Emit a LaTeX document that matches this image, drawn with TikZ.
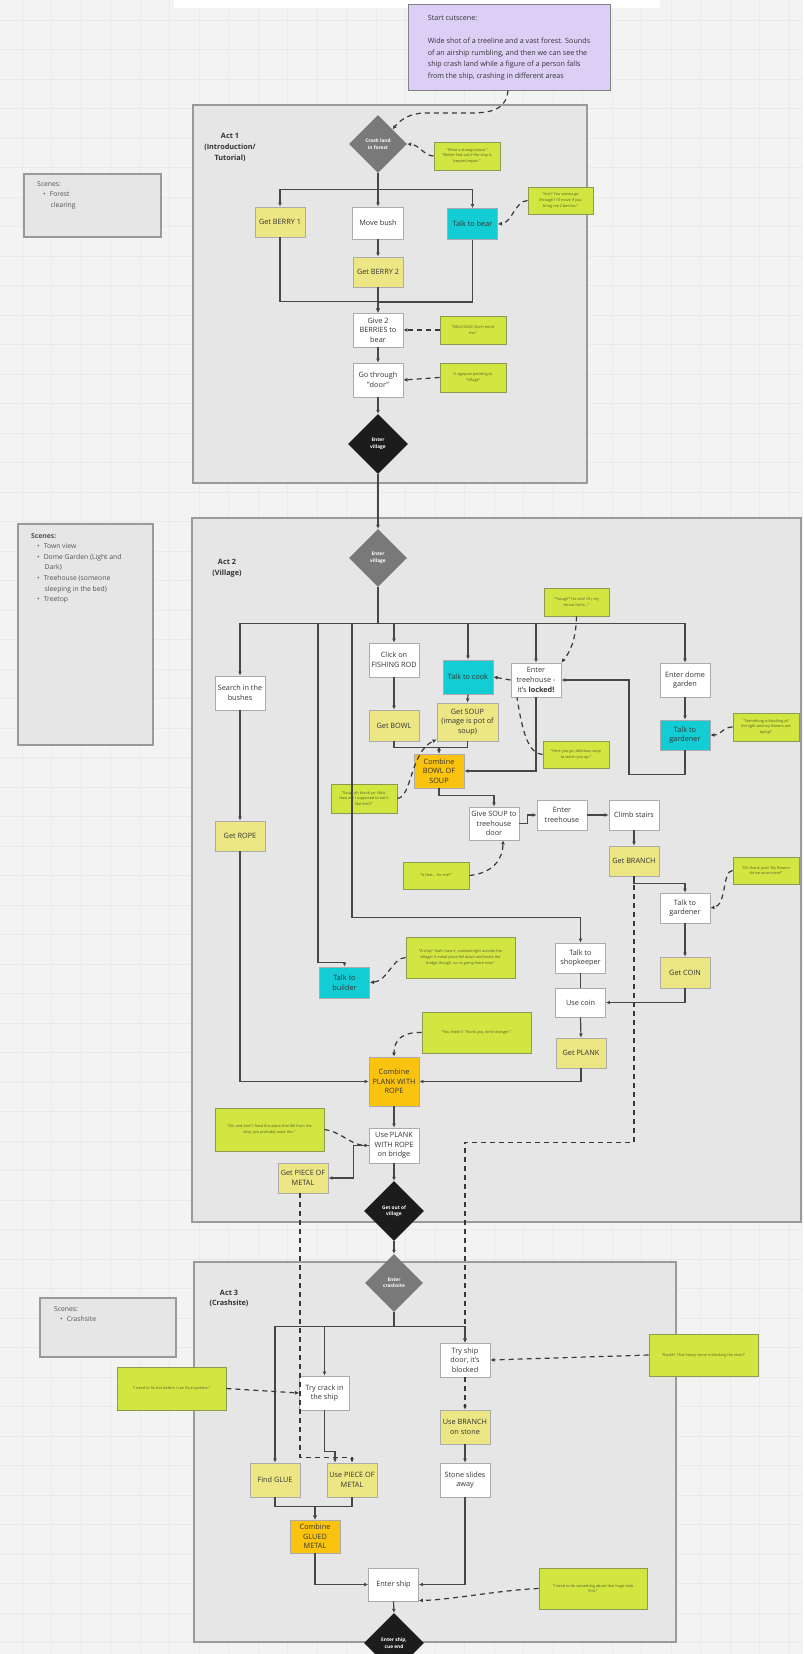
\documentclass[tikz,border=0pt]{standalone}
\usepackage{fontspec}
\setmainfont{Open Sans}
\usetikzlibrary{shapes.geometric,arrows.meta}
\definecolor{bgc}{HTML}{F3F3F3}
\definecolor{gridc}{HTML}{EAEAEA}
\definecolor{regfill}{HTML}{E6E6E6}
\definecolor{reggray}{HTML}{9A9A9A}
\definecolor{boxgray}{HTML}{ABABAB}
\definecolor{txt}{HTML}{333333}
\definecolor{yel}{HTML}{ECE784}
\definecolor{cyn}{HTML}{12CDD4}
\definecolor{org}{HTML}{F9C30F}
\definecolor{lime}{HTML}{D1E641}
\definecolor{notegray}{HTML}{8E9A50}
\definecolor{notetxt}{HTML}{55602A}
\definecolor{diagray}{HTML}{797979}
\definecolor{diablack}{HTML}{1C1C1C}
\definecolor{linec}{HTML}{474747}
\definecolor{dashc}{HTML}{383838}
\definecolor{lav}{HTML}{DCCFF6}
\newcommand{\bx}[7]{\node[#1, minimum width=#5pt, minimum height=#6pt] (#2) at (#3,#4) {#7};}
\tikzset{
 box/.style={draw=boxgray, line width=0.9pt, inner sep=1pt, align=center, font=\fontsize{7.3}{9.6}\selectfont, text=txt},
 wbox/.style={box, fill=white},
 ybox/.style={box, fill=yel},
 cbox/.style={box, fill=cyn},
 obox/.style={box, fill=org},
 note/.style={draw=notegray, line width=0.9pt, fill=lime, align=center, inner sep=1pt, font=\fontsize{3.8}{5.8}\selectfont, text=notetxt},
 dia/.style={diamond, inner sep=0pt, minimum width=58pt, minimum height=58pt, font=\bfseries\fontsize{4.8}{6.4}\selectfont, text=white, align=center},
 gdia/.style={dia, fill=diagray},
 bdia/.style={dia, fill=diablack},
 conn/.style={draw=linec, line width=1.2pt},
 arr/.style={conn, -{Latex[length=4pt,width=4pt]}},
 darr/.style={draw=dashc, line width=1.2pt, dash pattern=on 5pt off 4pt, -{Latex[length=4pt,width=4pt]}},
 dline/.style={draw=dashc, line width=1.2pt, dash pattern=on 5pt off 4pt},
 region/.style={draw=reggray, line width=1.3pt, fill=regfill},
 scenebox/.style={draw=reggray, line width=1.3pt, fill=regfill},
 scenetxt/.style={anchor=north west, align=left, inner sep=0pt, font=\fontsize{6.8}{10.6}\selectfont, text=txt!85},
 actlbl/.style={align=center, inner sep=0pt, font=\bfseries\fontsize{7.3}{10.6}\selectfont, text=txt},
}
\begin{document}
\begin{tikzpicture}[x=1pt,y=-1pt]
\useasboundingbox (0,0) rectangle (803,1654);
\clip (0,0) rectangle (803,1654);
% background
\fill[bgc] (0,0) rectangle (803,1654);
\foreach \i in {0,...,27} \draw[gridc, line width=0.5pt] ({22+29.5*\i},0) -- ++(0,1654);
\foreach \i in {0,...,55} \draw[gridc, line width=0.5pt] (0,{20+29.5*\i}) -- ++(803,0);
\fill[white] (174,0) rectangle (660,8);
% regions
\path[region] (193,105) rectangle (587,483);
\path[region] (192,518) rectangle (801,1222);
\path[region] (194,1262) rectangle (676,1642);
\node[actlbl] (act1) at (230,147.5) {Act 1\\(Introduction/\\Tutorial)};
\node[actlbl] (act2) at (227,568) {Act 2\\(Village)};
\node[actlbl] (act3) at (229,1298.5) {Act 3\\(Crashsite)};
% scenes boxes
\path[scenebox] (24,174) rectangle (161,237);
\node[scenetxt] (sc1) at (37,181) {Scenes:\\\hspace*{6pt}•\hspace{4pt}Forest\\\hspace*{13.5pt}clearing};
\path[scenebox] (18,524) rectangle (153,745);
\node[scenetxt] (sc2) at (31,533) {\textbf{Scenes:}\\\hspace*{6pt}•\hspace{4pt}Town view\\\hspace*{6pt}•\hspace{4pt}Dome Garden (Light and\\\hspace*{13.5pt}Dark)\\\hspace*{6pt}•\hspace{4pt}Treehouse (someone\\\hspace*{13.5pt}sleeping in the bed)\\\hspace*{6pt}•\hspace{4pt}Treetop};
\path[scenebox] (40,1298) rectangle (176,1357);
\node[scenetxt] (sc3) at (54,1306) {Scenes:\\\hspace*{6pt}•\hspace{4pt}Crashsite};
% cutscene
\node[draw=gray, line width=1pt, fill=lav, minimum width=202pt, minimum height=85pt, align=left, inner sep=0pt, font=\fontsize{7.2}{11.6}\selectfont, text=txt] (cut) at (509,47.5) {Start cutscene:\\[11.6pt]Wide shot of a treeline and a vast forest. Sounds\\of an airship rumbling, and then we can see the\\ship crash land while a figure of a person falls\\from the ship, crashing in different areas};
%% ACT 1
\node[gdia] (dcrash) at (378,144) {Crash land\\in forest};
\bx{note}{n1}{467}{156}{66}{28}{"What a strange place."\\"Better find out if the ship is\\beyond repair."}
\bx{ybox}{berry1}{280}{222}{50}{30}{Get BERRY 1}
\bx{wbox}{bush}{378}{223}{51}{32}{Move bush}
\bx{cbox}{bear}{472.5}{224}{50}{31}{Talk to bear}
\bx{note}{n2}{560.5}{200.5}{65}{27}{"Huh? You wanna go\\through? I'll move if you\\bring me 2 berries."}
\bx{ybox}{berry2}{378}{272}{50}{30}{Get BERRY 2}
\bx{wbox}{give}{378}{330}{50}{34}{Give 2\\BERRIES to\\bear}
\bx{note}{n3}{473}{330}{66}{28}{"DELICIOUS! Don't mind\\me."}
\bx{wbox}{door}{378}{380}{50}{34}{Go through\\"door"}
\bx{note}{n4}{473}{377.5}{66}{29}{A signpost pointing to\\"Village"}
\node[bdia, minimum width=60pt, minimum height=60pt] (dev1) at (378,444) {Enter\\village};
%% ACT 2
\node[gdia] (dev2) at (378,558) {Enter\\village};
\bx{wbox}{search}{240}{693}{50}{34}{Search in the\\bushes}
\bx{ybox}{rope}{240}{836}{50}{30}{Get ROPE}
\bx{wbox}{fish}{394}{660}{50}{34}{Click on\\FISHING ROD}
\bx{ybox}{bowl}{394}{725.5}{50}{31}{Get BOWL}
\bx{cbox}{cook}{468}{677}{50}{34}{Talk to cook}
\bx{ybox}{soup}{467.5}{722}{61}{38}{Get SOUP\\(image is pot of\\soup)}
\bx{obox}{cmbsoup}{439}{771}{50}{34}{Combine\\BOWL OF\\SOUP}
\bx{wbox}{tlocked}{536}{680}{50}{34}{Enter\\treehouse -\\it's \textbf{locked!}}
\bx{note}{ncough}{576.5}{602}{65}{28}{"*cough* I'm sick! Oh, my\\throat hurts..."}
\bx{note}{nhere}{576}{754.5}{66}{27}{"Here you go, delicious soup\\to warm you up."}
\bx{wbox}{dome}{685}{680}{50}{34}{Enter dome\\garden}
\bx{cbox}{gard1}{685}{735}{50}{30}{Talk to\\gardener}
\bx{note}{nblock}{766}{727}{66}{28}{"Something is blocking all\\the light and my flowers are\\dying!"}
\bx{note}{nsoupwait}{364}{798.5}{66}{29}{"Soup, oh thank yo- Wait.\\How am I supposed to eat it\\like this?!"}
\bx{wbox}{givesoup}{494}{823.5}{50}{33}{Give SOUP to\\treehouse\\door}
\bx{wbox}{th2}{562}{815}{50}{30}{Enter\\treehouse}
\bx{wbox}{climb}{634}{815}{50}{30}{Climb stairs}
\bx{ybox}{branch}{634}{861}{50}{30}{Get BRANCH}
\bx{wbox}{gard2}{685}{908}{50}{30}{Talk to\\gardener}
\bx{note}{nthrive}{766}{870.5}{66}{27}{"Oh thank you!! My flowers\\thrive once more!"}
\bx{ybox}{coin}{685}{972.5}{50}{31}{Get COIN}
\bx{note}{nisthat}{436}{875.5}{66}{27}{"Is that... for me?"}
\bx{cbox}{builder}{344.5}{982.5}{50}{31}{Talk to\\builder}
\bx{note}{nship}{460.5}{957.5}{109}{41}{"A ship? Yeah I saw it, crashed right outside the\\village! A metal piece fell down and broke the\\bridge though, so no going there now."}
\bx{wbox}{shop}{580.5}{958}{50}{30}{Talk to\\shopkeeper}
\bx{wbox}{usecoin}{580.5}{1002.5}{50}{29}{Use coin}
\bx{ybox}{plank}{581}{1053}{50}{30}{Get PLANK}
\bx{obox}{cmbplank}{394}{1081.5}{50}{49}{Combine\\PLANK WITH\\ROPE}
\bx{note}{nfixed}{476.5}{1032.5}{109}{41}{"You fixed it! Thank you, kind stranger."}
\bx{wbox}{useplank}{394}{1145.5}{50}{35}{Use PLANK\\WITH ROPE\\on bridge}
\bx{note}{nbtw}{269.5}{1129.5}{109}{43}{"Oh, and btw! I fixed this piece that fell from the\\ship, you probably want this."}
\bx{ybox}{metal}{303}{1178}{50}{30}{Get PIECE OF\\METAL}
\node[bdia, minimum width=60pt, minimum height=60pt] (dout) at (394,1211) {Get out of\\village};
%% ACT 3
\node[gdia] (dcrashsite) at (394,1283) {Enter\\crashsite};
\bx{wbox}{crack}{324.5}{1393}{50}{34}{Try crack in\\the ship}
\bx{note}{nfix}{171.5}{1388.5}{109}{43}{"I need to fix this before I can fly anywhere."}
\bx{wbox}{shipdoor}{465}{1360}{50}{34}{Try ship\\door, it's\\blocked}
\bx{note}{nraah}{703.5}{1355}{109}{42}{"Raahh! That heavy stone is blocking the door!"}
\bx{ybox}{usebranch}{465}{1427}{50}{34}{Use BRANCH\\on stone}
\bx{wbox}{stone}{465}{1480}{50}{34}{Stone slides\\away}
\bx{ybox}{usemetal}{352}{1480}{50}{34}{Use PIECE OF\\METAL}
\bx{ybox}{glue}{275}{1480}{50}{34}{Find GLUE}
\bx{obox}{cmbglue}{315}{1536.5}{50}{33}{Combine\\GLUED\\METAL}
\bx{wbox}{entership}{393.5}{1584.5}{50}{33}{Enter ship}
\bx{note}{nhole}{593}{1588.5}{108}{41}{"I need to do something about that huge hole\\first."}
\node[bdia, minimum width=60pt, minimum height=60pt] (dend) at (394,1643) {Enter ship,\\cue end};
%% CONNECTORS ACT 1
\draw[darr] ([xshift=-1pt]cut.south) .. controls (506,108) and (495,113) .. (470,113) -- (425,113) .. controls (410,113) and (400,120) .. (dcrash.north east);
\draw[darr] (n1.west) .. controls (424,156) and (420,145) .. (dcrash.east);
\draw[arr] (dcrash.south) -- ++(0,16) -| (berry1.north);
\draw[arr] (dcrash.south) -- ++(0,16) -| (bear.north);
\draw[arr] (dcrash.south) -- (bush.north);
\draw[darr] (n2.west) .. controls (515,201) and (512,223) .. (bear.east);
\draw[arr] (bush.south) -- (berry2.north);
\draw[arr] (berry1.south) -- ++(0,64) -| (give.north);
\draw[arr] (bear.south) -- ++(0,62) -| (give.north);
\draw[arr] (berry2.south) -- (give.north);
\draw[darr] (n3.west) -- (give.east);
\draw[darr] (n4.west) -- (door.east);
\draw[arr] (give.south) -- (door.north);
\draw[arr] (door.south) -- (dev1.north);
\draw[arr] (dev1.south) -- (dev2.north);
%% CONNECTORS ACT 2
\draw[arr] (dev2.south) -- ++(0,36) -| (search.north);
\draw[arr] (dev2.south) -- ++(0,36) -| (fish.north);
\draw[arr] (dev2.south) -- ++(0,36) -| (cook.north);
\draw[arr] (dev2.south) -- ++(0,36) -| (tlocked.north);
\draw[arr] (dev2.south) -- ++(0,36) -| (dome.north);
\draw[arr] (dev2.south) -- ++(0,36) -- ++(-60,0) -- ++(0,339) -| (builder.north);
\draw[arr] (dev2.south) -- ++(0,36) -- ++(-26,0) -- ++(0,294) -| (shop.north);
\draw[arr] (search.south) -- (rope.north);
\draw[arr] (rope.south) |- (cmbplank.west);
\draw[arr] (fish.south) -- (bowl.north);
\draw[arr] (cook.south) -- (soup.north);
\draw[arr] (bowl.south) -- ++(0,6) -| (cmbsoup.north);
\draw[arr] (soup.south) -- ++(0,6) -| (cmbsoup.north);
\draw[arr] (tlocked.south) |- (cmbsoup.east);
\draw[darr] (ncough.south) .. controls (576,640) and (570,652) .. (tlocked.north east);
\draw[darr] (tlocked.west) -- (cook.east);
\draw[dline] (nhere.west) .. controls (528,754) and (522,730) .. ([xshift=-19pt]tlocked.south);
\draw[darr] (nsoupwait.east) .. controls (412,797) and (410,752) .. ([yshift=2pt]soup.south west);
\draw[arr] (dome.south) -- (gard1.north);
\draw[darr] (nblock.west) .. controls (722,727) and (722,735) .. (gard1.east);
\draw[arr] (gard1.south) -- ++(0,24) -- ++(-56,0) |- (tlocked.east);
\draw[arr] (cmbsoup.south) -- ++(0,7) -| (givesoup.north);
\draw[arr] (givesoup.east) -- ++(8,0) |- (th2.west);
\draw[arr] (th2.east) -- (climb.west);
\draw[arr] (climb.south) -- (branch.north);
\draw[arr] (branch.south) -- ++(0,7) -| (gard2.north);
\draw[darr] (nthrive.west) .. controls (722,871) and (727,905) .. (gard2.east);
\draw[arr] (gard2.south) -- (coin.north);
\draw[arr] (coin.south) |- (usecoin.east);
\draw[conn] (shop.south) -- (usecoin.north);
\draw[arr] (usecoin.south) -- (plank.north);
\draw[arr] (plank.south) |- (cmbplank.east);
\draw[darr] (nisthat.east) .. controls (494,873) and (503,858) .. ([xshift=9pt]givesoup.south);
\draw[darr] (nship.west) .. controls (392,958) and (388,981) .. (builder.east);
\draw[darr] (nfixed.west) .. controls (402,1032) and (394,1040) .. (cmbplank.north);
\draw[arr] (cmbplank.south) -- (useplank.north);
\draw[darr] (nbtw.east) .. controls (342,1132) and (350,1145) .. (useplank.west);
\draw[arr] (useplank.west) -- ++(-15,0) |- (metal.east);
\draw[arr] (useplank.south) -- (dout.north);
\draw[arr] (dout.south) -- (dcrashsite.north);
\draw[darr] (branch.south) -- ++(0,266) -| (shipdoor.north);
\draw[darr] ([xshift=-3pt]metal.south) -- ++(0,264) -| (usemetal.north);
%% CONNECTORS ACT 3
\draw[arr] (dcrashsite.south) -- ++(0,14) -| (glue.north);
\draw[arr] (dcrashsite.south) -- ++(0,14) -| (crack.north);
\draw[arr] (dcrashsite.south) -- ++(0,14) -| (shipdoor.north);
\draw[darr] (nfix.east) -- (crack.west);
\draw[darr] (nraah.west) -- (shipdoor.east);
\draw[arr] (crack.south) -- ++(0,41) -| ([xshift=-17pt]usemetal.north);
\draw[darr] (shipdoor.south) -- (usebranch.north);
\draw[arr] (usebranch.south) -- (stone.north);
\draw[arr] (glue.south) -- ++(0,9) -| (cmbglue.north);
\draw[arr] (usemetal.south) -- ++(0,9) -| (cmbglue.north);
\draw[arr] (cmbglue.south) |- (entership.west);
\draw[arr] (stone.south) |- (entership.east);
\draw[darr] (nhole.west) .. controls (500,1590) and (450,1600) .. ([yshift=1pt]entership.south east);
\draw[arr] (entership.south) -- (dend.north);
\end{tikzpicture}
\end{document}
